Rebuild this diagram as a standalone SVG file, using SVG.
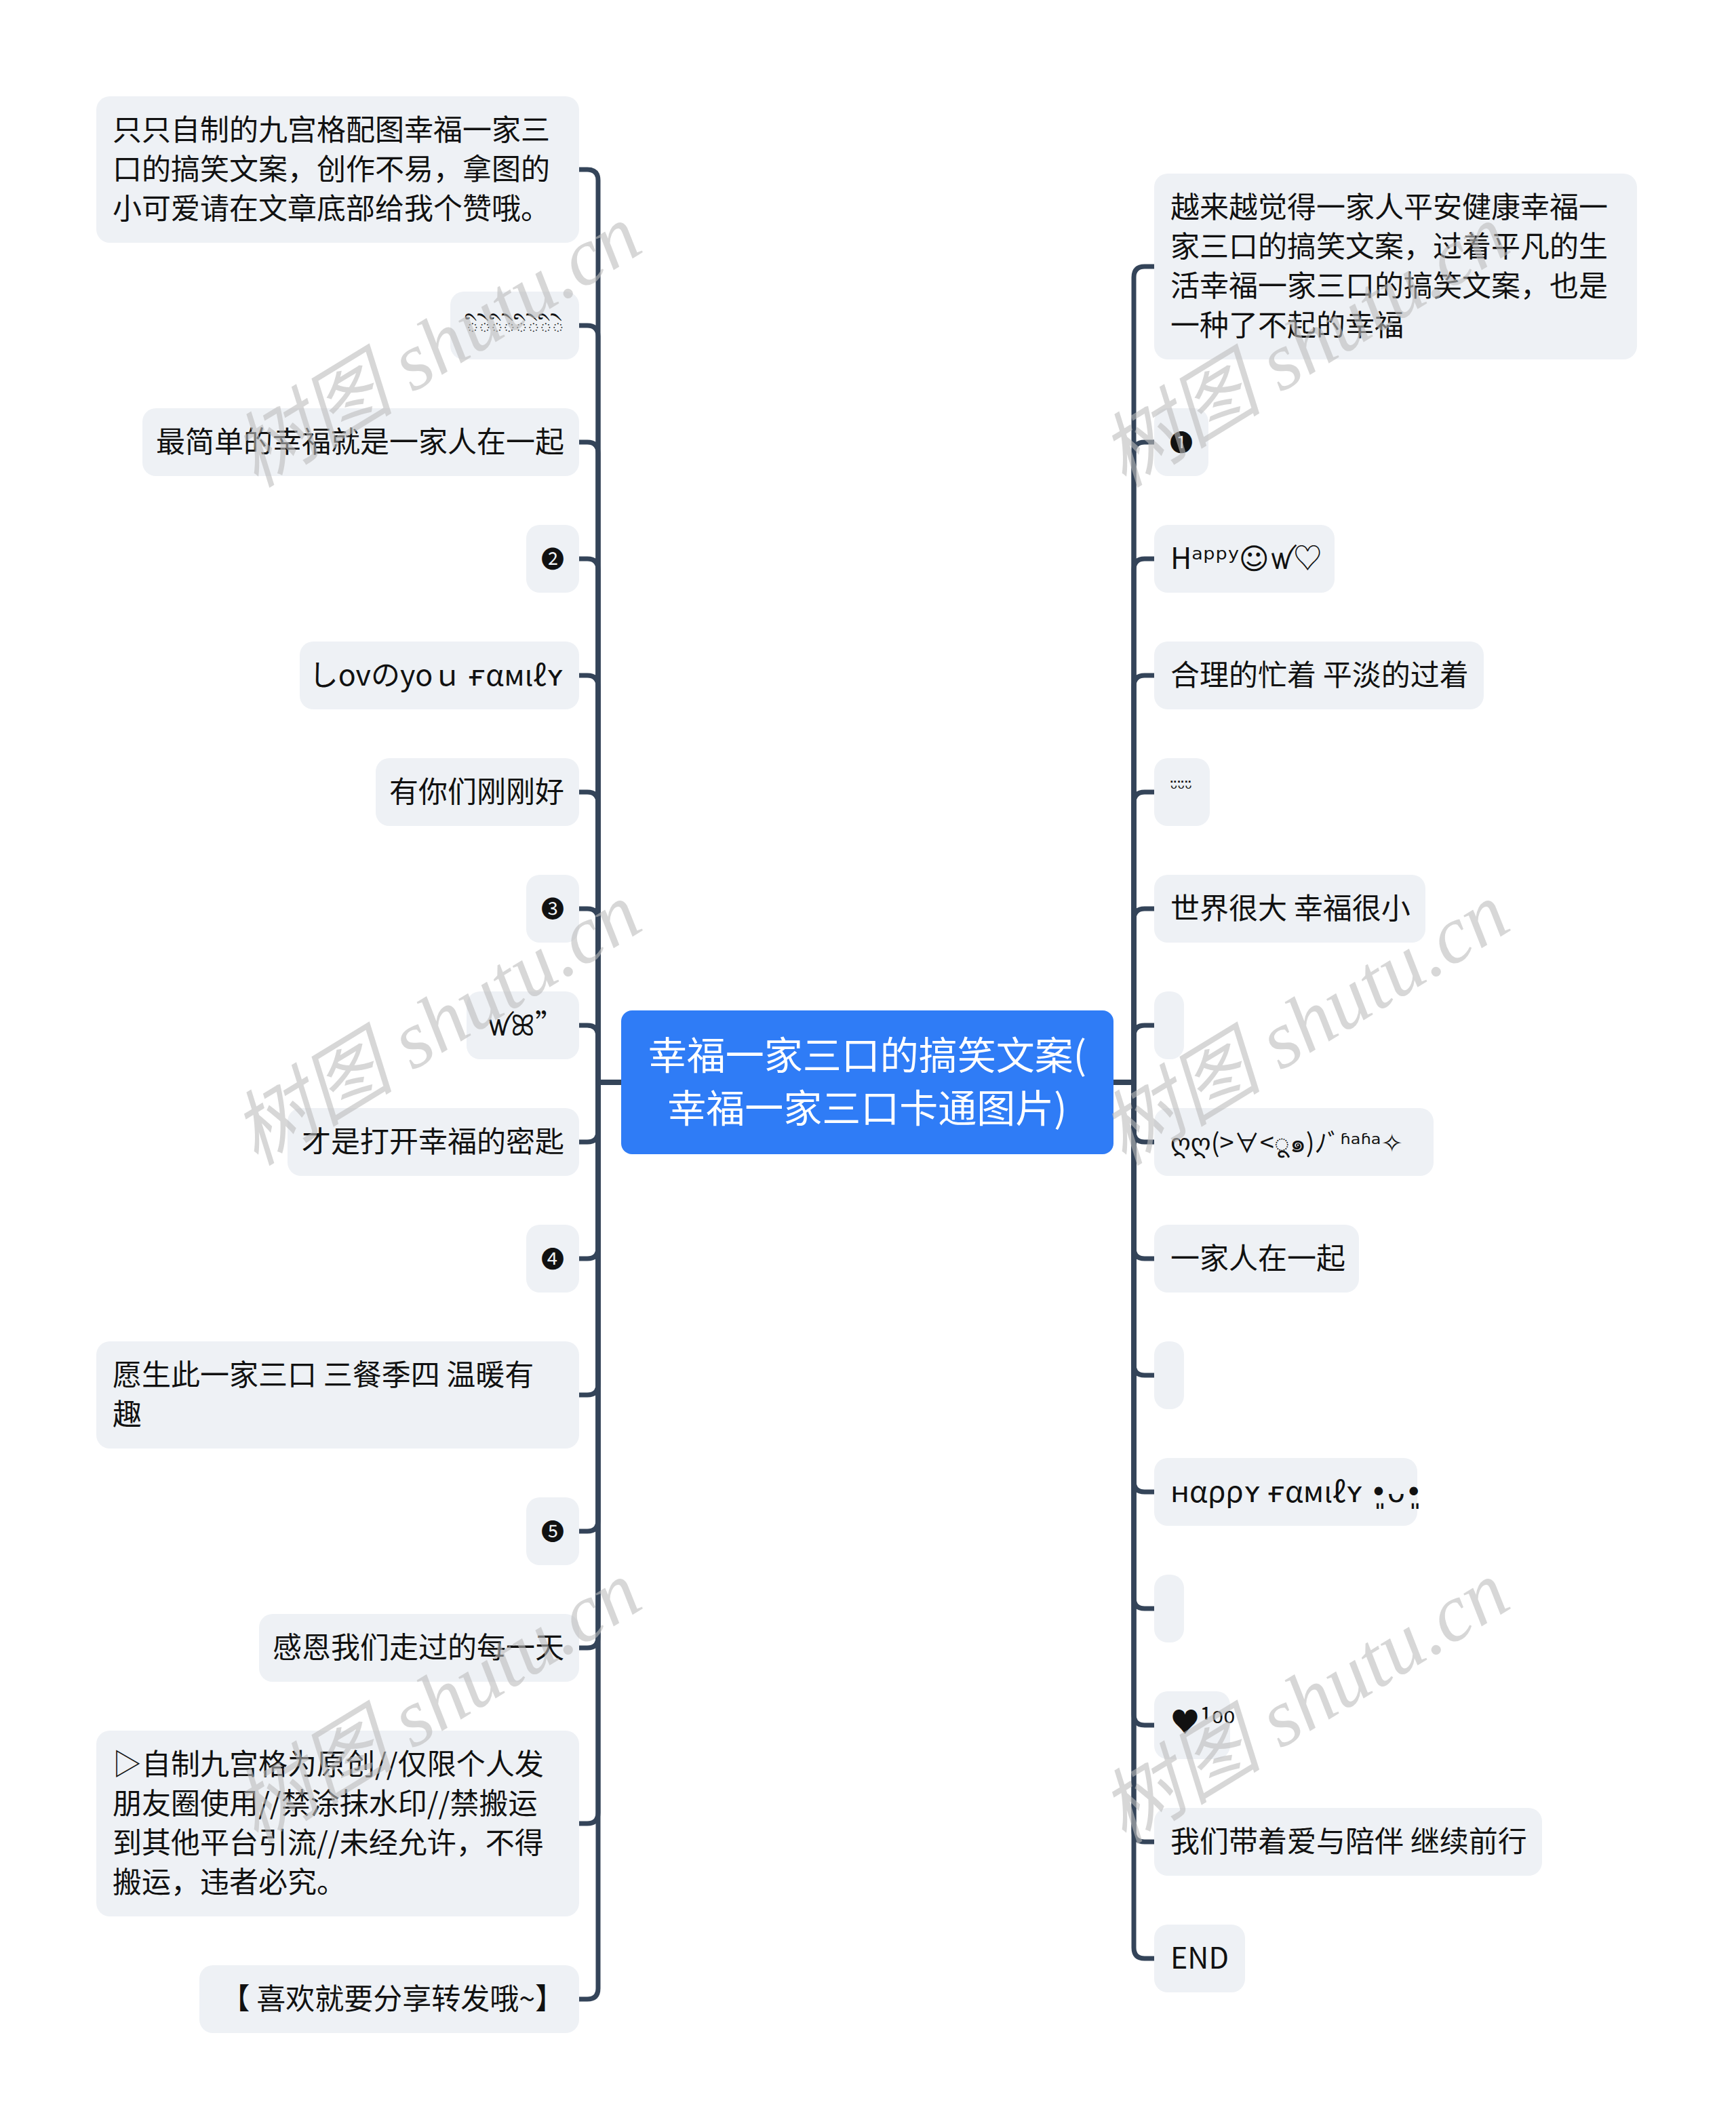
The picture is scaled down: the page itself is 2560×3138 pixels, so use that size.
<svg xmlns="http://www.w3.org/2000/svg" width="2560" height="3138" viewBox="0 0 2560 3138">
<style>
.bg{fill:#ffffff}
.box{fill:#eef1f5}
.root{fill:#2f7cf6}
.t{font-family:'Noto Sans CJK SC','DejaVu Sans',sans-serif;font-size:43px;fill:#111111}
.te{text-anchor:end}
.tm{text-anchor:middle}
.rt{font-family:'Noto Sans CJK SC','DejaVu Sans',sans-serif;font-size:57px;fill:#ffffff;text-anchor:middle}
.c{fill:none;stroke:#344459;stroke-width:7}
.wm{font-family:'Liberation Serif','Noto Sans CJK SC',serif;font-style:italic;font-size:120px;fill:#bdbdbd;fill-opacity:0.6;text-anchor:middle;dominant-baseline:central}
</style>
<rect class="bg" x="0" y="0" width="2560" height="3138"/>
<g id="connectors">
<path class="c" d="M916,1596 H882 V266 Q882,250 866,250 H854"/>
<path class="c" d="M916,1596 H882 V496 Q882,480 866,480 H854"/>
<path class="c" d="M916,1596 H882 V668 Q882,652 866,652 H854"/>
<path class="c" d="M916,1596 H882 V840 Q882,824 866,824 H854"/>
<path class="c" d="M916,1596 H882 V1012 Q882,996 866,996 H854"/>
<path class="c" d="M916,1596 H882 V1184 Q882,1168 866,1168 H854"/>
<path class="c" d="M916,1596 H882 V1356 Q882,1340 866,1340 H854"/>
<path class="c" d="M916,1596 H882 V1528 Q882,1512 866,1512 H854"/>
<path class="c" d="M916,1596 H882 V1668 Q882,1684 866,1684 H854"/>
<path class="c" d="M916,1596 H882 V1840 Q882,1856 866,1856 H854"/>
<path class="c" d="M916,1596 H882 V2041 Q882,2057 866,2057 H854"/>
<path class="c" d="M916,1596 H882 V2242 Q882,2258 866,2258 H854"/>
<path class="c" d="M916,1596 H882 V2414 Q882,2430 866,2430 H854"/>
<path class="c" d="M916,1596 H882 V2673 Q882,2689 866,2689 H854"/>
<path class="c" d="M916,1596 H882 V2932 Q882,2948 866,2948 H854"/>
<path class="c" d="M1642,1596 H1672 V409 Q1672,393 1688,393 H1702"/>
<path class="c" d="M1642,1596 H1672 V668 Q1672,652 1688,652 H1702"/>
<path class="c" d="M1642,1596 H1672 V840 Q1672,824 1688,824 H1702"/>
<path class="c" d="M1642,1596 H1672 V1012 Q1672,996 1688,996 H1702"/>
<path class="c" d="M1642,1596 H1672 V1184 Q1672,1168 1688,1168 H1702"/>
<path class="c" d="M1642,1596 H1672 V1356 Q1672,1340 1688,1340 H1702"/>
<path class="c" d="M1642,1596 H1672 V1528 Q1672,1512 1688,1512 H1702"/>
<path class="c" d="M1642,1596 H1672 V1668 Q1672,1684 1688,1684 H1702"/>
<path class="c" d="M1642,1596 H1672 V1840 Q1672,1856 1688,1856 H1702"/>
<path class="c" d="M1642,1596 H1672 V2012 Q1672,2028 1688,2028 H1702"/>
<path class="c" d="M1642,1596 H1672 V2184 Q1672,2200 1688,2200 H1702"/>
<path class="c" d="M1642,1596 H1672 V2356 Q1672,2372 1688,2372 H1702"/>
<path class="c" d="M1642,1596 H1672 V2528 Q1672,2544 1688,2544 H1702"/>
<path class="c" d="M1642,1596 H1672 V2700 Q1672,2716 1688,2716 H1702"/>
<path class="c" d="M1642,1596 H1672 V2872 Q1672,2888 1688,2888 H1702"/>
</g>
<g id="root">
<rect class="root" x="916" y="1490" width="726" height="212" rx="16"/>
<text class="rt" x="1279" y="1577">幸福一家三口的搞笑文案(</text>
<text class="rt" x="1279" y="1655">幸福一家三口卡通图片)</text>
</g>
<g id="L1"><rect class="box" x="142" y="142" width="712" height="216" rx="20"/>
<text class="t" x="166" y="207">只只自制的九宫格配图幸福一家三</text>
<text class="t" x="166" y="265">口的搞笑文案，创作不易，拿图的</text>
<text class="t" x="166" y="323">小可爱请在文章底部给我个赞哦。</text></g>
<g id="L2"><rect class="box" x="664" y="430" width="190" height="100" rx="20"/>
<text class="t te" x="832" y="496" style="font-size:32px">◌ི◌ེ◌ི◌ེ◌ི◌ེ◌ི◌ེ</text></g>
<g id="L3"><rect class="box" x="210" y="602" width="644" height="100" rx="20"/>
<text class="t te" x="832" y="667">最简单的幸福就是一家人在一起</text></g>
<g id="L4"><rect class="box" x="776" y="774" width="78" height="100" rx="20"/>
<text class="t tm" x="815" y="837" style="font-size:34px">❷</text></g>
<g id="L5"><rect class="box" x="442" y="946" width="412" height="100" rx="20"/>
<text class="t te" x="832" y="1011">しovのyoｕ ғαмιℓʏ</text></g>
<g id="L6"><rect class="box" x="554" y="1118" width="300" height="100" rx="20"/>
<text class="t te" x="832" y="1183">有你们刚刚好</text></g>
<g id="L7"><rect class="box" x="776" y="1290" width="78" height="100" rx="20"/>
<text class="t tm" x="815" y="1353" style="font-size:34px">❸</text></g>
<g id="L8"><rect class="box" x="688" y="1462" width="166" height="100" rx="20"/>
<text class="t te" x="832" y="1527">ꪝꕤ”</text></g>
<g id="L9"><rect class="box" x="424" y="1634" width="430" height="100" rx="20"/>
<text class="t te" x="832" y="1699">才是打开幸福的密匙</text></g>
<g id="L10"><rect class="box" x="776" y="1806" width="78" height="100" rx="20"/>
<text class="t tm" x="815" y="1869" style="font-size:34px">❹</text></g>
<g id="L11"><rect class="box" x="142" y="1978" width="712" height="158" rx="20"/>
<text class="t" x="166" y="2043">愿生此一家三口 三餐季四 温暖有</text>
<text class="t" x="166" y="2101">趣</text></g>
<g id="L12"><rect class="box" x="776" y="2208" width="78" height="100" rx="20"/>
<text class="t tm" x="815" y="2271" style="font-size:34px">❺</text></g>
<g id="L13"><rect class="box" x="382" y="2380" width="472" height="100" rx="20"/>
<text class="t te" x="832" y="2445">感恩我们走过的每一天</text></g>
<g id="L14"><rect class="box" x="142" y="2552" width="712" height="274" rx="20"/>
<text class="t" x="166" y="2617">▷自制九宫格为原创//仅限个人发</text>
<text class="t" x="166" y="2675">朋友圈使用//禁涂抹水印//禁搬运</text>
<text class="t" x="166" y="2733">到其他平台引流//未经允许，不得</text>
<text class="t" x="166" y="2791">搬运，违者必究。</text></g>
<g id="L15"><rect class="box" x="294" y="2898" width="560" height="100" rx="20"/>
<text class="t te" x="832" y="2963">【 喜欢就要分享转发哦~】</text></g>
<g id="R1"><rect class="box" x="1702" y="256" width="712" height="274" rx="20"/>
<text class="t" x="1726" y="321">越来越觉得一家人平安健康幸福一</text>
<text class="t" x="1726" y="379">家三口的搞笑文案，过着平凡的生</text>
<text class="t" x="1726" y="437">活幸福一家三口的搞笑文案，也是</text>
<text class="t" x="1726" y="495">一种了不起的幸福</text></g>
<g id="R2"><rect class="box" x="1702" y="602" width="80" height="100" rx="20"/>
<text class="t tm" x="1742" y="665" style="font-size:34px">❶</text></g>
<g id="R3"><rect class="box" x="1702" y="774" width="266" height="100" rx="20"/>
<text class="t" x="1726" y="839">Hᵃᵖᵖʸ☺ꪝ♡</text></g>
<g id="R4"><rect class="box" x="1702" y="946" width="486" height="100" rx="20"/>
<text class="t" x="1726" y="1011">合理的忙着 平淡的过着</text></g>
<g id="R5"><rect class="box" x="1702" y="1118" width="82" height="100" rx="20"/>
<text class="t" x="1726" y="1172" style="font-size:26px">ᵕ̈ᵕ̈ᵕ̈</text></g>
<g id="R6"><rect class="box" x="1702" y="1290" width="400" height="100" rx="20"/>
<text class="t" x="1726" y="1355">世界很大 幸福很小</text></g>
<g id="R7"><rect class="box" x="1702" y="1462" width="44" height="100" rx="20"/></g>
<g id="R8"><rect class="box" x="1702" y="1634" width="412" height="100" rx="20"/>
<text class="t" x="1726" y="1699" style="font-size:38px">ღღ(&gt;∀&lt;ू๑)ﾉﾞʱᵃʱᵃ✧</text></g>
<g id="R9"><rect class="box" x="1702" y="1806" width="302" height="100" rx="20"/>
<text class="t" x="1726" y="1871">一家人在一起</text></g>
<g id="R10"><rect class="box" x="1702" y="1978" width="44" height="100" rx="20"/></g>
<g id="R11"><rect class="box" x="1702" y="2150" width="388" height="100" rx="20"/>
<text class="t" x="1726" y="2215">ʜαρρʏ ғαмιℓʏ •͈ᴗ•͈</text></g>
<g id="R12"><rect class="box" x="1702" y="2322" width="44" height="100" rx="20"/></g>
<g id="R13"><rect class="box" x="1702" y="2494" width="112" height="100" rx="20"/>
<text class="t" x="1726" y="2555">♥¹⁰⁰</text></g>
<g id="R14"><rect class="box" x="1702" y="2666" width="572" height="100" rx="20"/>
<text class="t" x="1726" y="2731">我们带着爱与陪伴 继续前行</text></g>
<g id="R15"><rect class="box" x="1702" y="2838" width="134" height="100" rx="20"/>
<text class="t" x="1726" y="2903">END</text></g>
<g id="watermarks">
<text class="wm" x="644" y="510" transform="rotate(-31.4 644 510)">树图 shutu.cn</text>
<text class="wm" x="644" y="1510" transform="rotate(-31.4 644 1510)">树图 shutu.cn</text>
<text class="wm" x="644" y="2510" transform="rotate(-31.4 644 2510)">树图 shutu.cn</text>
<text class="wm" x="1924" y="510" transform="rotate(-31.4 1924 510)">树图 shutu.cn</text>
<text class="wm" x="1924" y="1510" transform="rotate(-31.4 1924 1510)">树图 shutu.cn</text>
<text class="wm" x="1924" y="2510" transform="rotate(-31.4 1924 2510)">树图 shutu.cn</text>
</g>
</svg>
